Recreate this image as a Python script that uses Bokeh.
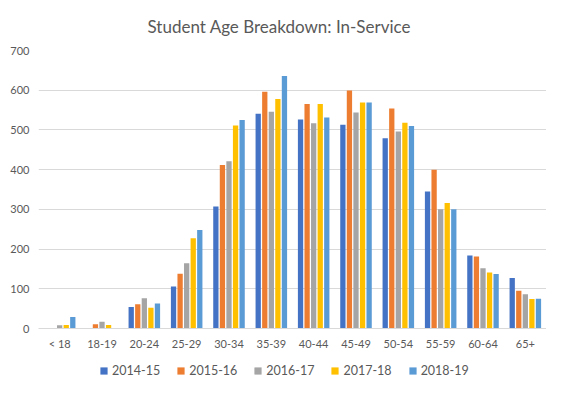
from bokeh.plotting import figure
from bokeh.layouts import column
from bokeh.models import ColumnDataSource, FactorRange, Range1d, FixedTicker, Legend, LegendItem
from bokeh.transform import dodge
from bokeh.embed import file_html
from bokeh.resources import INLINE

ages = ["< 18", "18-19", "20-24", "25-29", "30-34", "35-39", "40-44",
        "45-49", "50-54", "55-59", "60-64", "65+"]
years = ["2014-15", "2015-16", "2016-17", "2017-18", "2018-19"]
y2014_15 = [0, 0, 54, 106, 307, 541, 526, 513, 479, 345, 184, 127]
y2015_16 = [0, 11, 61, 138, 412, 596, 565, 599, 554, 400, 181, 95]
y2016_17 = [8, 17, 76, 164, 421, 546, 517, 544, 496, 300, 152, 86]
y2017_18 = [9, 9, 52, 227, 511, 578, 565, 569, 518, 316, 141, 74]
y2018_19 = [29, 0, 63, 248, 525, 636, 531, 569, 510, 300, 137, 75]
colors = ["#4472C4", "#ED7D31", "#A5A5A5", "#FFC000", "#5B9BD5"]
y_ticks = [0, 100, 200, 300, 400, 500, 600, 700]

src = ColumnDataSource(dict(age=ages, a=y2014_15, b=y2015_16, c=y2016_17,
                            d=y2017_18, e=y2018_19))
cols = ["a", "b", "c", "d", "e"]

FONT = "Lato"
TXT = "#595959"

p = figure(width=546, height=352, x_range=FactorRange(*ages, range_padding=0),
           y_range=Range1d(0, 700), output_backend="svg", toolbar_location=None,
           title="Student Age Breakdown: In-Service",
           min_border_left=38, min_border_right=0, min_border_top=50, min_border_bottom=24)
p.title.align = "left"
p.title.offset = 109
p.title.text_font = FONT
p.title.text_font_size = "17px"
p.title.text_font_style = "normal"
p.title.text_color = TXT
p.title.standoff = 27

offsets = [-0.31, -0.155, 0.0, 0.155, 0.31]
for col, off, colr in zip(cols, offsets, colors):
    p.vbar(x=dodge("age", off, range=p.x_range), top=col, width=0.125,
           source=src, fill_color=colr, line_color=None)

p.outline_line_color = None
p.xgrid.grid_line_color = None
p.ygrid.grid_line_color = "#D9D9D9"
p.yaxis.ticker = FixedTicker(ticks=y_ticks)
p.yaxis.axis_line_color = None
p.yaxis.major_label_standoff = 9
p.xaxis.axis_line_color = "#D9D9D9"
p.xaxis.major_label_standoff = 8
for ax in (p.xaxis, p.yaxis):
    ax.major_tick_line_color = None
    ax.minor_tick_line_color = None
    ax.major_tick_out = 0
    ax.major_tick_in = 0
    ax.minor_tick_out = 0
    ax.major_label_text_font = FONT
    ax.major_label_text_font_size = "11px"
    ax.major_label_text_color = TXT

# legend strip below the chart (its renderers are hidden; only the legend shows)
lg = figure(width=546, height=26, output_backend="svg", toolbar_location=None,
            x_range=FactorRange(*ages), y_range=Range1d(0, 1),
            x_axis_location=None, y_axis_location=None,
            min_border=0, outline_line_color=None)
lg.grid.visible = False
items = []
for col, colr, yr in zip(cols, colors, years):
    r = lg.vbar(x="age", top=col, bottom=0, width=0.1, source=src,
                fill_color=colr, line_color=None, visible=False)
    items.append(LegendItem(label=yr, renderers=[r]))
legend = Legend(items=items, orientation="horizontal", location=(61, 0),
                label_text_font=FONT, label_text_font_size="12.5px",
                label_text_color=TXT, glyph_width=9, glyph_height=9,
                label_standoff=4, spacing=16, padding=2, margin=0,
                border_line_color=None, label_height=13, background_fill_alpha=0,
                inactive_fill_alpha=0, click_policy="none")
lg.add_layout(legend)

layout = column(p, lg, spacing=0)
open("out.html", "w").write(file_html(layout, INLINE))
